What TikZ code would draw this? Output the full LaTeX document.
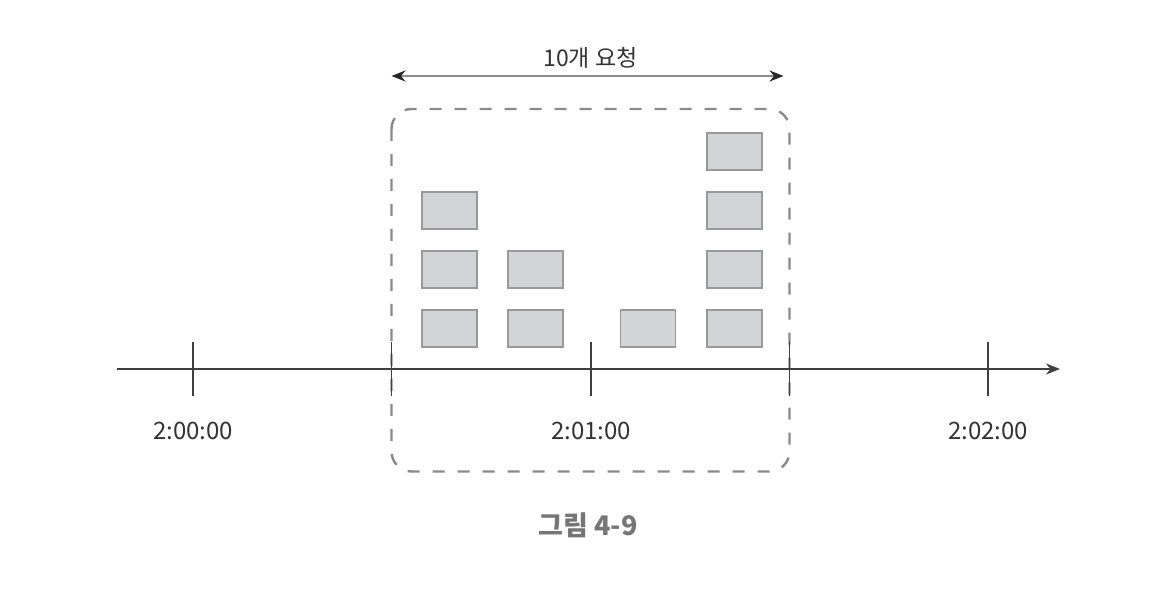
\documentclass[tikz,border=0pt]{standalone}
\usepackage{fontspec}
\setmainfont{Noto Sans CJK KR}
\usetikzlibrary{arrows.meta}
\definecolor{axiscol}{HTML}{3F3F3F}
\definecolor{dashcol}{HTML}{8A8A8A}
\definecolor{boxfill}{HTML}{D3D4D6}
\definecolor{boxline}{HTML}{999999}
\definecolor{txtcol}{HTML}{333333}
\definecolor{capcol}{HTML}{767676}
\definecolor{spancol}{HTML}{8C8C8C}
\tikzset{
  reqbox/.style={draw=boxline, fill=boxfill, line width=1.6pt, minimum width=55pt, minimum height=37pt, inner sep=0pt, anchor=north west},
  tickmark/.style={draw=axiscol, line width=1.6pt},
  timelabel/.style={text=txtcol, font=\fontsize{24}{28}\selectfont, anchor=base, inner sep=0pt},
  window/.style={draw=dashcol, line width=2.4pt, dash pattern=on 12pt off 13pt, rounded corners=20pt},
}
\begin{document}
\begin{tikzpicture}[x=1pt,y=-1pt]
\useasboundingbox (0,0) rectangle (1160,612);
% dashed window
\draw[window] (391.5,109) rectangle (789.5,471.5);
% axis
\coordinate (axS) at (117,369);
\coordinate (axE) at (1060,369);
\draw[axiscol, line width=1.8pt, -{Stealth[length=14pt,width=11pt]}] (axS) -- (axE);
% ticks
\foreach \n/\x in {t0/193, t1/391.5, t2/591, t3/789.5, t4/988}{
  \coordinate (\n top) at (\x,342);
  \coordinate (\n bot) at (\x,396);
  \draw[tickmark] (\n top) -- (\n bot);
}
% time labels
\node[timelabel] (l0) at (193,439) {2:00:00};
\node[timelabel] (l1) at (591,439) {2:01:00};
\node[timelabel] (l2) at (988,439) {2:02:00};
% request boxes
\node[reqbox] (a2) at (421,191) {};
\node[reqbox] (a3) at (421,250) {};
\node[reqbox] (a4) at (421,309) {};
\node[reqbox] (b3) at (507,250) {};
\node[reqbox] (b4) at (507,309) {};
\node[reqbox] (c4) at (619.5,309) {};
\node[reqbox] (d1) at (706,132.5) {};
\node[reqbox] (d2) at (706,191) {};
\node[reqbox] (d3) at (706,250) {};
\node[reqbox] (d4) at (706,309) {};
% span arrow
\coordinate (spL) at (391.5,76);
\coordinate (spR) at (783.5,76);
\draw[spancol, line width=2pt, {Stealth[length=14pt,width=11pt,color=black!85]}-{Stealth[length=14pt,width=11pt,color=black!85]}] (spL) -- (spR);
\node[text=txtcol, font=\fontsize{23}{27}\selectfont, anchor=base, inner sep=0pt] (span) at (590.5,66.5) {10개 요청};
% caption
\node[text=capcol, font=\bfseries\fontsize{27}{31}\selectfont, anchor=base, inner sep=0pt] (cap) at (588,535) {그림 4-9};
\end{tikzpicture}
\end{document}
